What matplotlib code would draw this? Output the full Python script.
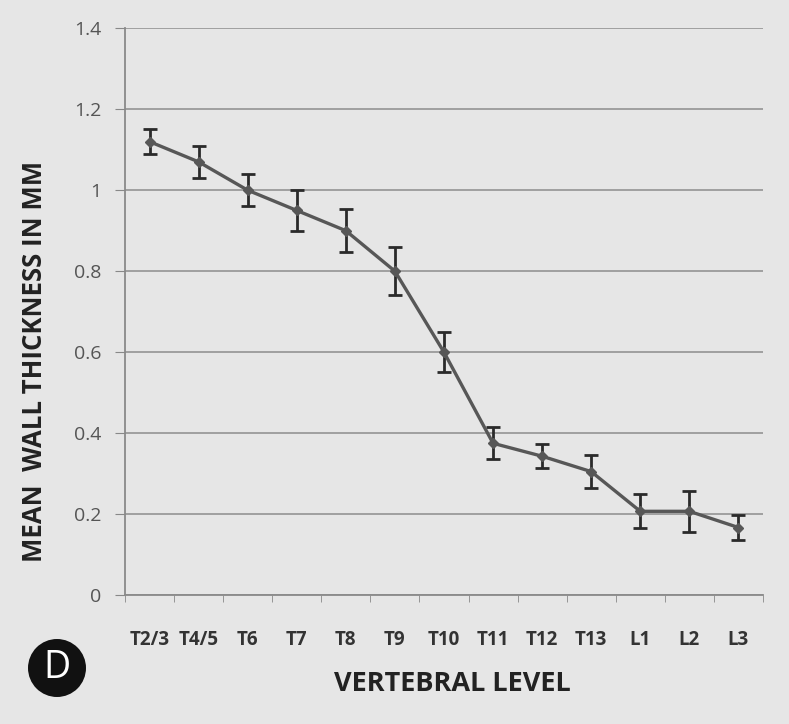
import matplotlib.pyplot as plt
import numpy as np
from matplotlib.patches import Circle

levels = ['T2/3', 'T4/5', 'T6', 'T7', 'T8', 'T9', 'T10', 'T11', 'T12', 'T13', 'L1', 'L2', 'L3']
mean_thick = [1.12, 1.07, 1.0, 0.95, 0.90, 0.80, 0.60, 0.375, 0.343, 0.305, 0.207, 0.207, 0.167]
err = [0.03, 0.04, 0.04, 0.05, 0.053, 0.06, 0.05, 0.04, 0.03, 0.04, 0.042, 0.05, 0.032]

bg = '#e6e6e6'
plt.rcParams['font.family'] = ['Open Sans', 'DejaVu Sans']

fig = plt.figure(figsize=(7.89, 7.24), dpi=100, facecolor=bg)
ax = fig.add_axes([0.1584, 0.178, 0.8086, 0.783])
ax.set_facecolor(bg)

x = np.arange(len(levels))
ax.errorbar(x, mean_thick, yerr=err, color='#575757', lw=2.4, marker='D', ms=5,
            ecolor='#2a2a2a', elinewidth=2, capsize=5, capthick=2, zorder=3)

ax.set_xlim(-0.5, len(levels) - 0.5)
ax.set_ylim(0, 1.4)
ax.set_yticks(np.arange(0, 1.41, 0.2))
ax.set_yticklabels(['0', '0.2', '0.4', '0.6', '0.8', '1', '1.2', '1.4'])
ax.yaxis.grid(True, color='#9a9a9a', lw=1.3)
ax.set_axisbelow(True)

ax.set_xticks(x)
ax.set_xticklabels(levels, fontsize=13.5, fontweight='bold', color='#333333')
ax.set_xticks(np.arange(-0.5, len(levels), 1), minor=True)
ax.tick_params(axis='x', which='major', length=0, pad=25)
ax.tick_params(axis='x', which='minor', length=5, color='#888888')
ax.tick_params(axis='y', length=7, color='#888888', labelsize=14, labelcolor='#555555', pad=10)

for s in ['top', 'right']:
    ax.spines[s].set_visible(False)
ax.spines['left'].set_color('#8a8a8a')
ax.spines['bottom'].set_color('#8a8a8a')
ax.spines['left'].set_linewidth(1.3)
ax.spines['bottom'].set_linewidth(1.3)

fig.text(452 / 789, 1 - 684 / 724, 'VERTEBRAL LEVEL', fontsize=19.5, fontweight='bold',
         color='#222222', ha='center', va='center')
fig.text(35 / 789, 1 - 361 / 724, 'MEAN  WALL THICKNESS IN MM', fontsize=18.5, fontweight='bold',
         color='#222222', ha='center', va='center', rotation=90)

circ = Circle((0.57, 0.56), 0.29, transform=fig.dpi_scale_trans,
              facecolor='#111111', edgecolor='none')
fig.patches.append(circ)
fig.text(0.57 / 7.89, 0.56 / 7.24, 'D', color='white', fontsize=27, ha='center', va='center')

fig.savefig('out.png', dpi=100, facecolor=bg)
